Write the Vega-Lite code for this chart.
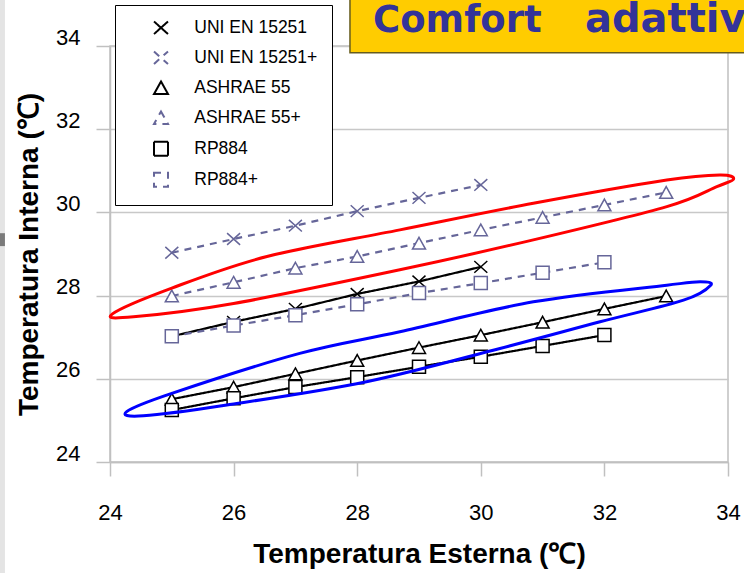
{
  "$schema": "https://vega.github.io/schema/vega-lite/v6.json",
  "width": 618,
  "height": 416,
  "autosize": {"type": "none"},
  "padding": {"left": 110, "top": 46, "right": 16, "bottom": 111},
  "background": "#ffffff",
  "config": {
    "font": "Liberation Sans",
    "view": {"stroke": "#c0c0c0", "strokeWidth": 1.5},
    "axis": {
      "domainColor": "#c0c0c0", "domainWidth": 1.5,
      "tickColor": "#c0c0c0", "tickWidth": 1.5, "tickSize": 14,
      "labelColor": "#000000", "labelFont": "Liberation Sans", "labelFontSize": 22,
      "titleColor": "#000000", "titleFont": "Liberation Sans", "titleFontSize": 28, "titleFontWeight": "bold",
      "gridColor": "#c8c8c8", "gridWidth": 1.5,
      "labelFlush": false, "labelOverlap": false
    }
  },
  "datasets": {
    "series": [
      {"series": "UNI EN 15251", "x": 25, "y": 27.02},
      {"series": "UNI EN 15251", "x": 26, "y": 27.37},
      {"series": "UNI EN 15251", "x": 27, "y": 27.68},
      {"series": "UNI EN 15251", "x": 28, "y": 28.04},
      {"series": "UNI EN 15251", "x": 29, "y": 28.34},
      {"series": "UNI EN 15251", "x": 30, "y": 28.69},
      {"series": "UNI EN 15251+", "x": 25, "y": 29.03},
      {"series": "UNI EN 15251+", "x": 26, "y": 29.36},
      {"series": "UNI EN 15251+", "x": 27, "y": 29.68},
      {"series": "UNI EN 15251+", "x": 28, "y": 30.03},
      {"series": "UNI EN 15251+", "x": 29, "y": 30.35},
      {"series": "UNI EN 15251+", "x": 30, "y": 30.66},
      {"series": "ASHRAE 55", "x": 25, "y": 25.51},
      {"series": "ASHRAE 55", "x": 26, "y": 25.80},
      {"series": "ASHRAE 55", "x": 27, "y": 26.12},
      {"series": "ASHRAE 55", "x": 28, "y": 26.44},
      {"series": "ASHRAE 55", "x": 29, "y": 26.75},
      {"series": "ASHRAE 55", "x": 30, "y": 27.05},
      {"series": "ASHRAE 55", "x": 31, "y": 27.36},
      {"series": "ASHRAE 55", "x": 32, "y": 27.68},
      {"series": "ASHRAE 55", "x": 33, "y": 27.99},
      {"series": "ASHRAE 55+", "x": 25, "y": 27.99},
      {"series": "ASHRAE 55+", "x": 26, "y": 28.32},
      {"series": "ASHRAE 55+", "x": 27, "y": 28.66},
      {"series": "ASHRAE 55+", "x": 28, "y": 28.94},
      {"series": "ASHRAE 55+", "x": 29, "y": 29.26},
      {"series": "ASHRAE 55+", "x": 30, "y": 29.58},
      {"series": "ASHRAE 55+", "x": 31, "y": 29.88},
      {"series": "ASHRAE 55+", "x": 32, "y": 30.18},
      {"series": "ASHRAE 55+", "x": 33, "y": 30.48},
      {"series": "RP884", "x": 25, "y": 25.25},
      {"series": "RP884", "x": 26, "y": 25.53},
      {"series": "RP884", "x": 27, "y": 25.80},
      {"series": "RP884", "x": 28, "y": 26.04},
      {"series": "RP884", "x": 29, "y": 26.29},
      {"series": "RP884", "x": 30, "y": 26.53},
      {"series": "RP884", "x": 31, "y": 26.79},
      {"series": "RP884", "x": 32, "y": 27.05},
      {"series": "RP884+", "x": 25, "y": 27.02},
      {"series": "RP884+", "x": 26, "y": 27.28},
      {"series": "RP884+", "x": 27, "y": 27.53},
      {"series": "RP884+", "x": 28, "y": 27.79},
      {"series": "RP884+", "x": 29, "y": 28.06},
      {"series": "RP884+", "x": 30, "y": 28.30},
      {"series": "RP884+", "x": 31, "y": 28.55},
      {"series": "RP884+", "x": 32, "y": 28.80}
    ],
    "red": [
      {"k": 0, "x": 24.04, "y": 27.56},
      {"k": 1, "x": 25.0, "y": 28.18},
      {"k": 2, "x": 26.54, "y": 28.94},
      {"k": 3, "x": 28.69, "y": 29.58},
      {"k": 4, "x": 30.85, "y": 30.22},
      {"k": 5, "x": 33.01, "y": 30.78},
      {"k": 6, "x": 33.87, "y": 30.90},
      {"k": 7, "x": 34.09, "y": 30.80},
      {"k": 8, "x": 33.82, "y": 30.62},
      {"k": 9, "x": 33.01, "y": 30.14},
      {"k": 10, "x": 30.85, "y": 29.34},
      {"k": 11, "x": 28.69, "y": 28.62},
      {"k": 12, "x": 26.0, "y": 27.81},
      {"k": 13, "x": 24.38, "y": 27.49}
    ],
    "blue": [
      {"k": 0, "x": 24.27, "y": 25.21},
      {"k": 1, "x": 25.0, "y": 25.65},
      {"k": 2, "x": 27.07, "y": 26.61},
      {"k": 3, "x": 28.69, "y": 27.13},
      {"k": 4, "x": 30.85, "y": 27.85},
      {"k": 5, "x": 33.01, "y": 28.25},
      {"k": 6, "x": 33.55, "y": 28.33},
      {"k": 7, "x": 33.72, "y": 28.25},
      {"k": 8, "x": 33.28, "y": 27.89},
      {"k": 9, "x": 31.93, "y": 27.37},
      {"k": 10, "x": 30.31, "y": 26.73},
      {"k": 11, "x": 28.15, "y": 25.93},
      {"k": 12, "x": 25.89, "y": 25.37},
      {"k": 13, "x": 24.54, "y": 25.11}
    ],
    "banner1": [
      {"label": "Comfort"}
    ],
    "banner2": [
      {"label": "adattivo"}
    ]
  },
  "layer": [
    {
      "data": {"name": "series"},
      "mark": {"type": "line", "strokeWidth": 2.2},
      "encoding": {
        "x": {
          "field": "x", "type": "quantitative", "title": "Temperatura Esterna (℃)",
          "scale": {"domain": [24, 34], "nice": false, "zero": false},
          "axis": {"values": [24, 26, 28, 30, 32, 34], "format": "d", "grid": false, "labelPadding": 26, "titlePadding": 17}
        },
        "y": {
          "field": "y", "type": "quantitative", "title": "Temperatura Interna (℃)",
          "scale": {"domain": [24, 34], "nice": false, "zero": false},
          "axis": {"values": [24, 26, 28, 30, 32, 34], "format": "d", "grid": true, "labelPadding": 16, "labelOffset": -9, "titlePadding": 12}
        },
        "stroke": {
          "field": "series", "type": "nominal",
          "scale": {
            "domain": ["UNI EN 15251", "UNI EN 15251+", "ASHRAE 55", "ASHRAE 55+", "RP884", "RP884+"],
            "range": ["#000000", "#666699", "#000000", "#666699", "#000000", "#666699"]
          },
          "legend": {
            "title": null, "orient": "none", "legendX": 5, "legendY": -41, "direction": "vertical",
            "padding": 14, "strokeColor": "#000000", "fillColor": "#ffffff",
            "symbolSize": 196, "symbolStrokeWidth": 2, "rowPadding": 8, "symbolOffset": 23.25,
            "labelOffset": 24.5, "labelFontSize": 17.5, "labelFont": "Liberation Sans", "labelColor": "#000000", "labelLimit": 300
          }
        },
        "strokeDash": {
          "field": "series", "type": "nominal",
          "scale": {
            "domain": ["UNI EN 15251", "UNI EN 15251+", "ASHRAE 55", "ASHRAE 55+", "RP884", "RP884+"],
            "range": [[1, 0], [7, 6], [1, 0], [7, 6], [1, 0], [7, 6]]
          },
          "legend": null
        }
      }
    },
    {
      "data": {"name": "series"},
      "mark": {"type": "point", "filled": true, "fill": "#ffffff", "size": 169, "strokeWidth": 1.5, "opacity": 1},
      "encoding": {
        "x": {"field": "x", "type": "quantitative", "title": "Temperatura Esterna (℃)"},
        "y": {"field": "y", "type": "quantitative", "title": "Temperatura Interna (℃)"},
        "stroke": {"field": "series", "type": "nominal"},
        "shape": {
          "field": "series", "type": "nominal",
          "scale": {
            "domain": ["UNI EN 15251", "UNI EN 15251+", "ASHRAE 55", "ASHRAE 55+", "RP884", "RP884+"],
            "range": ["M-1,-0.9L1,0.9M-1,0.9L1,-0.9", "M-1,-0.9L1,0.9M-1,0.9L1,-0.9", "M0,-0.9L1,0.9L-1,0.9Z", "M0,-0.9L1,0.9L-1,0.9Z", "square", "square"]
          },
          "legend": null
        }
      }
    },
    {
      "data": {"name": "red"},
      "mark": {"type": "line", "interpolate": "cardinal-closed", "stroke": "#ff0000", "strokeWidth": 3},
      "encoding": {
        "x": {"field": "x", "type": "quantitative", "title": "Temperatura Esterna (℃)"},
        "y": {"field": "y", "type": "quantitative", "title": "Temperatura Interna (℃)"},
        "order": {"field": "k", "type": "quantitative"}
      }
    },
    {
      "data": {"name": "blue"},
      "mark": {"type": "line", "interpolate": "cardinal-closed", "stroke": "#0000ff", "strokeWidth": 3},
      "encoding": {
        "x": {"field": "x", "type": "quantitative", "title": "Temperatura Esterna (℃)"},
        "y": {"field": "y", "type": "quantitative", "title": "Temperatura Interna (℃)"},
        "order": {"field": "k", "type": "quantitative"}
      }
    },
    {
      "data": {"name": "banner1"},
      "mark": {"type": "rect", "fill": "#ffcc00", "stroke": "#665c1e", "strokeWidth": 1.5},
      "encoding": {
        "x": {"datum": 27.883, "type": "quantitative"},
        "x2": {"datum": 34.9},
        "y": {"datum": 33.84, "type": "quantitative"},
        "y2": {"datum": 35.4}
      }
    },
    {
      "data": {"name": "banner1"},
      "mark": {"type": "text", "font": "DejaVu Sans", "fontWeight": "bold", "fontSize": 37, "fill": "#333399", "align": "left", "baseline": "alphabetic"},
      "encoding": {
        "text": {"field": "label"},
        "x": {"datum": 28.256, "type": "quantitative"},
        "y": {"datum": 34.337, "type": "quantitative"}
      }
    },
    {
      "data": {"name": "banner2"},
      "mark": {"type": "text", "font": "DejaVu Sans", "fontWeight": "bold", "fontSize": 40, "fill": "#333399", "align": "left", "baseline": "alphabetic"},
      "encoding": {
        "text": {"field": "label"},
        "x": {"datum": 31.686, "type": "quantitative"},
        "y": {"datum": 34.337, "type": "quantitative"}
      }
    },
    {
      "data": {"name": "banner1"},
      "mark": {"type": "rect", "fill": "#e4e4e4"},
      "encoding": {
        "x": {"datum": 22.1, "type": "quantitative"},
        "x2": {"datum": 22.3},
        "y": {"datum": 21.0, "type": "quantitative"},
        "y2": {"datum": 35.5}
      }
    },
    {
      "data": {"name": "banner1"},
      "mark": {"type": "rect", "fill": "#7a7a7a"},
      "encoding": {
        "x": {"datum": 22.1, "type": "quantitative"},
        "x2": {"datum": 22.3},
        "y": {"datum": 29.19, "type": "quantitative"},
        "y2": {"datum": 29.5}
      }
    }
  ]
}
